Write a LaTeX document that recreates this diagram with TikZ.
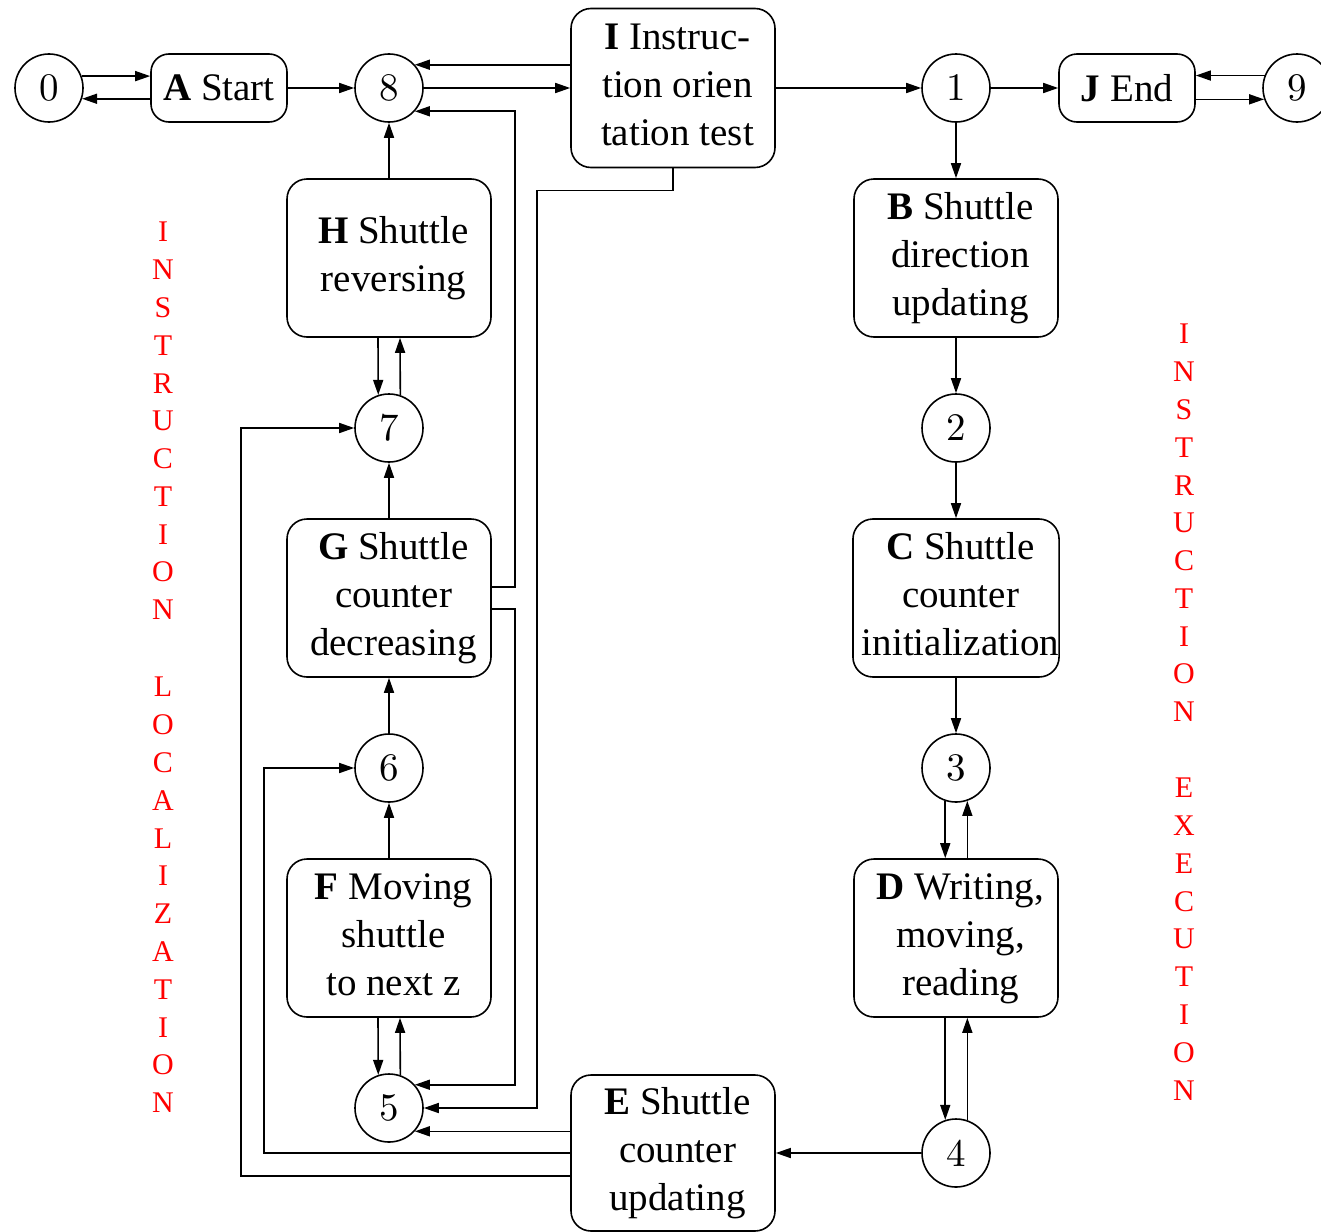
\documentclass[tikz,border=0pt]{standalone}
\usepackage{fontspec}
\newfontfamily\tnr{Liberation Serif}
\newfontfamily\lmten{lmroman10-regular.otf}
\usetikzlibrary{arrows.meta}
% multi-line box label, nudged slightly to the right
\newcommand\boxlines[1]{\begin{tabular}{@{\hspace{9pt}}c@{}}#1\end{tabular}}
\begin{document}
\begin{tikzpicture}[x=1pt,y=-1pt,
  state/.style={draw, circle, line width=1.6pt, minimum size=68pt, inner sep=0pt,
    font=\lmten\fontsize{39}{48}\selectfont},
  box/.style={draw, rounded corners=20pt, line width=1.6pt, minimum width=204pt,
    minimum height=158pt, inner sep=0pt, font=\tnr\fontsize{39}{48}\selectfont},
  smallbox/.style={box, minimum width=136pt, minimum height=68pt, rounded corners=18pt},
  arr/.style={line width=1.6pt, -{Triangle[length=15pt,width=10pt]}},
  redletter/.style={text=red, inner sep=0pt, font=\tnr\fontsize{30}{36}\selectfont}
]
\useasboundingbox (0,0) rectangle (1321,1231);

% states
\node[state] (n0) at (49,88) {0};
\node[state] (n8) at (389,88) {8};
\node[state] (n1) at (956,88) {1};
\node[state] (n9) at (1297,88) {9};
\node[state] (n7) at (389,428) {7};
\node[state] (n6) at (389,768) {6};
\node[state] (n5) at (389,1108) {5};
\node[state] (n2) at (956,428) {2};
\node[state] (n3) at (956,768) {3};
\node[state] (n4) at (956,1153) {4};

% process boxes
\node[smallbox] (A) at (219,88) {\textbf{A} Start};
\node[smallbox] (J) at (1127,88) {\textbf{J} End};
\node[box, minimum height=159pt] (I) at (673,88) {\boxlines{\textbf{I} Instruc-\\tion orien\\tation test}};
\node[box] (H) at (389,258) {\boxlines{\textbf{H} Shuttle\\reversing}};
\node[box] (G) at (389,598) {\boxlines{\textbf{G} Shuttle\\counter\\decreasing}};
\node[box] (F) at (389,938) {\boxlines{\textbf{F} Moving\\shuttle\\to next z}};
\node[box] (B) at (956,258) {\boxlines{\textbf{B} Shuttle\\direction\\updating}};
\node[box] (C) at (956,598) {\boxlines{\textbf{C} Shuttle\\counter\\initialization}};
\node[box] (D) at (956,938) {\boxlines{\textbf{D} Writing,\\moving,\\reading}};
\node[box, minimum height=156pt] (E) at (673,1153) {\boxlines{\textbf{E} Shuttle\\counter\\updating}};

% top row
\draw[arr] (n0.20.7) -- (n0.20.7 -| A.west);
\draw[arr] (n0.-18.9 -| A.west) -- (n0.-18.9);
\draw[arr] (A.east) -- (n8.west);
\draw[arr] (n8.42.6 -| I.west) -- (n8.42.6);
\draw[arr] (n8.east) -- (I.west);
\draw[arr] (I.east) -- (n1.west);
\draw[arr] (n1.east) -- (J.west);
\draw[arr] (n9.159.3) -- (n9.159.3 -| J.east);
\draw[arr] (n9.-161.1 -| J.east) -- (n9.-161.1);

% execution column
\draw[arr] (n1.south) -- (B.north);
\draw[arr] (B.south) -- (n2.north);
\draw[arr] (n2.south) -- (C.north);
\draw[arr] (C.south) -- (n3.north);
\draw[arr] (n3.-108.9) -- (n3.-108.9 |- D.north);
\draw[arr] (n3.-71.1 |- D.north) -- (n3.-71.1);
\draw[arr] (n4.108.9 |- D.south) -- (n4.108.9);
\draw[arr] (n4.71.1) -- (n4.71.1 |- D.south);
\draw[arr] (n4.west) -- (E.east);

% localization column
\draw[arr] (H.north) -- (n8.south);
\draw[arr] ([xshift=-11pt]H.south) -- (n7.108.9);
\draw[arr] (n7.71.1) -- ([xshift=11pt]H.south);
\draw[arr] (G.north) -- (n7.south);
\draw[arr] (n6.north) -- (G.south);
\draw[arr] (F.north) -- (n6.south);
\draw[arr] ([xshift=-11pt]F.south) -- (n5.108.9);
\draw[arr] (n5.71.1) -- ([xshift=11pt]F.south);

% feedback routes
\draw[arr] ([yshift=11pt]G.east) -- ++(23,0) |- (n8.-42.6);
\draw[arr] ([yshift=-11pt]G.east) -- ++(23,0) |- (n5.42.6);
\draw[arr] (I.south) -- ++(0,22) -- ++(-136,0) |- (n5.east);
\draw[arr] (n5.-42.6 -| E.west) -- (n5.-42.6);
\draw[arr] (E.west) -- ++(-306,0) |- (n6.west);
\draw[arr] ([yshift=-23pt]E.west) -- ++(-329,0) |- (n7.west);

% vertical captions
\foreach \c [count=\i from 0] in {I,N,S,T,R,U,C,T,I,O,N}
  \node[redletter] (la\i) at (163,232+37.8*\i) {\c};
\foreach \c [count=\i from 0] in {L,O,C,A,L,I,Z,A,T,I,O,N}
  \node[redletter] (lb\i) at (163,687+37.8*\i) {\c};
\foreach \c [count=\i from 0] in {I,N,S,T,R,U,C,T,I,O,N}
  \node[redletter] (ra\i) at (1184,334+37.8*\i) {\c};
\foreach \c [count=\i from 0] in {E,X,E,C,U,T,I,O,N}
  \node[redletter] (rb\i) at (1184,788+37.8*\i) {\c};
\end{tikzpicture}
\end{document}
